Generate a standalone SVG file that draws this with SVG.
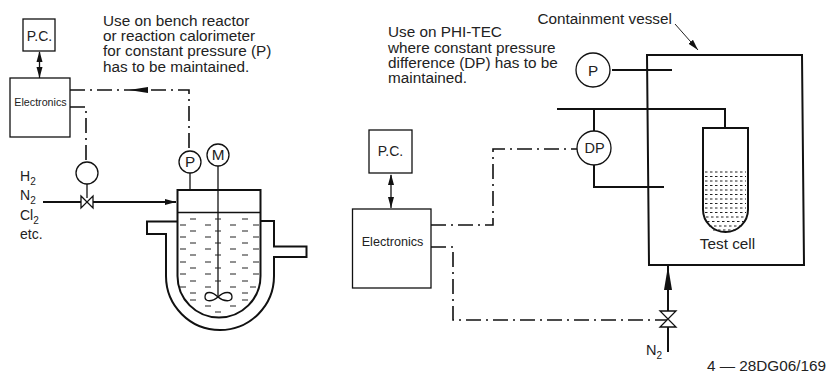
<svg xmlns="http://www.w3.org/2000/svg" width="827" height="372" viewBox="0 0 827 372">
<style>
text{font-family:"Liberation Sans",Arial,sans-serif;font-size:15.300px;fill:#222}
.s{font-size:10px}
.m{text-anchor:middle}
.b{fill:#fff;stroke:#111;stroke-width:1.3}
.n{fill:none;stroke:#111;stroke-width:1.3}
.t{fill:none;stroke:#111;stroke-width:2}
.d{fill:none;stroke:#111;stroke-width:1.6;stroke-dasharray:15 5 2 5}
.l{fill:none;stroke:#222;stroke-width:1}
</style>
<defs>
<marker id="a" markerWidth="12" markerHeight="8" refX="11" refY="3" orient="auto" markerUnits="userSpaceOnUse"><path d="M0,0L11,3L0,6z" fill="#111"/></marker>
<marker id="as" markerWidth="12" markerHeight="8" refX="1" refY="3" orient="auto" markerUnits="userSpaceOnUse"><path d="M11,0L0,3L11,6z" fill="#111"/></marker>
</defs>
<g id="connectors">
<path class="d" d="M70,90H189V150"/>
<path fill="#111" d="M129,90L148,87V93z"/>
<path class="d" d="M70,107H86V162"/>
<path class="n" d="M87,184V198"/>
<path class="t" d="M43,202H176" marker-end="url(#a)"/>
<path class="n" d="M39.500,52V78" marker-start="url(#as)" marker-end="url(#a)"/>
<path class="n" d="M190,173V190"/>
<path class="n" d="M218,166V297"/>
<path class="n" d="M391,175V208" marker-start="url(#as)" marker-end="url(#a)"/>
<path class="d" d="M431,225H493V149H577"/>
<path class="d" d="M431,247H453V320H668"/>
<path class="t" d="M668,352V327"/>
<path class="t" d="M668,311V266"/>
<path fill="#111" d="M668,266L672,290H664z"/>
<path class="l" d="M675,24L698,50" marker-end="url(#a)"/>
<path class="t" d="M612,70H672"/>
<path class="t" d="M557,109H725V128"/>
<path class="t" d="M594,109V131"/>
<path class="t" d="M594,165V187H664"/>
</g>
<g id="pc-left"><rect class="b" x="23" y="19" width="32" height="32"/><text class="m" x="39.500" y="41" style="font-size:14px">P.C.</text></g>
<g id="electronics-left"><rect class="b" x="10" y="78" width="60" height="59"/><text class="m" x="40.500" y="106" style="font-size:10.700px">Electronics</text></g>
<g id="actuator"><circle class="b" cx="87" cy="173" r="11"/></g>
<g id="valve-left"><path class="b" d="M81,196L93,208V196L81,208z"/></g>
<g id="gauge-p-left"><circle class="b" cx="190" cy="162" r="11"/><text class="m" x="190" y="167">P</text></g>
<g id="motor"><circle class="b" cx="218" cy="155" r="11"/><text class="m" x="218" y="160">M</text></g>
<g id="reactor">
<path class="t" d="M261,221H274V246.500H306.500V257H274V276A54,54 0 0 1 166,276V234H147V221.500H177"/>
<path class="t" d="M177.500,190H260.500V276A41.500,41.500 0 0 1 177.500,276z"/>
<path class="n" d="M177.500,212.500H260.500"/>
<path class="n" d="M218,297C212,291 205,291 205,297C205,302 212,302 218,297C224,291 232,291 232,297C232,302 224,302 218,297z"/>
<path class="l" d="M190,219h6M215,219h6M242,219h6M180,225h6M205,225h6M230,225h6M253,225h6M190,231h6M215,231h6M242,231h6M180,237h6M205,237h6M230,237h6M253,237h6M190,243h6M215,243h6M242,243h6M180,249h6M205,249h6M230,249h6M253,249h6M190,255h6M215,255h6M242,255h6M180,262h6M205,262h6M230,262h6M253,262h6M190,268h6M215,268h6M242,268h6M180,274h6M205,274h6M230,274h6M253,274h6M190,281h6M215,281h6M242,281h6M180,287h6M205,287h6M230,287h6M250,287h6M190,293h6M242,293h6M190,300h6M242,300h6M205,306h6M230,306h6M215,312h6"/>
</g>
<g id="labels-left">
<text x="103" y="25.500">Use on bench reactor</text>
<text x="103" y="41">or reaction calorimeter</text>
<text x="103" y="56">for constant pressure (P)</text>
<text x="103" y="71.500">has to be maintained.</text>
<text x="20" y="181" style="font-size:14px">H<tspan class="s" dy="4">2</tspan></text>
<text x="20" y="200" style="font-size:14px">N<tspan class="s" dy="4">2</tspan></text>
<text x="20" y="220" style="font-size:14px">Cl<tspan class="s" dy="4">2</tspan></text>
<text x="20" y="239" style="font-size:14px">etc.</text>
</g>
<g id="pc-right"><rect class="b" x="369" y="130" width="43" height="43"/><text class="m" x="390.500" y="156" style="font-size:14px">P.C.</text></g>
<g id="electronics-right"><rect class="b" x="352.500" y="209" width="78.500" height="79"/><text class="m" x="392.500" y="246" style="font-size:12.600px">Electronics</text></g>
<g id="containment-vessel"><path fill="none" stroke="#111" stroke-width="2" d="M647,55H802L804,265H649z"/></g>
<g id="crossings">
<path class="t" d="M647,70H672M647,109H660M649,187H664"/>
</g>
<g id="gauge-p-right"><circle class="b" cx="593" cy="70" r="17"/><text class="m" x="593" y="75.500">P</text></g>
<g id="gauge-dp"><circle class="b" cx="594" cy="148" r="17"/><text class="m" x="594.500" y="153" style="font-size:14.500px">DP</text></g>
<g id="test-cell">
<path class="t" d="M703,128H748V209.500A22.500,22.500 0 0 1 703,209.500z"/>
<path class="l" style="stroke-dasharray:2.500 2.500" d="M705,172H746M705,176.500H746M705,181H746M705,185.500H746M705,190H746M705,194.500H746M705,199H746M705,203.500H746M705,208H746M705,212.500H746M706,217H745M707,221.500H744M709,226H742M713,230H738"/>
<text class="m" x="727.500" y="249">Test cell</text>
</g>
<g id="valve-right"><path class="b" d="M660,311H676L660,327H676z"/></g>
<g id="labels-right">
<text x="388" y="37">Use on PHI-TEC</text>
<text x="388" y="52.500">where constant pressure</text>
<text x="388" y="68">difference (DP) has to be</text>
<text x="388" y="83">maintained.</text>
<text x="537.500" y="24">Containment vessel</text>
<text x="646" y="355" style="font-size:14.500px">N<tspan class="s" dy="4">2</tspan></text>
<text x="707" y="370.500">4 — 28DG06/169</text>
</g>
</svg>
